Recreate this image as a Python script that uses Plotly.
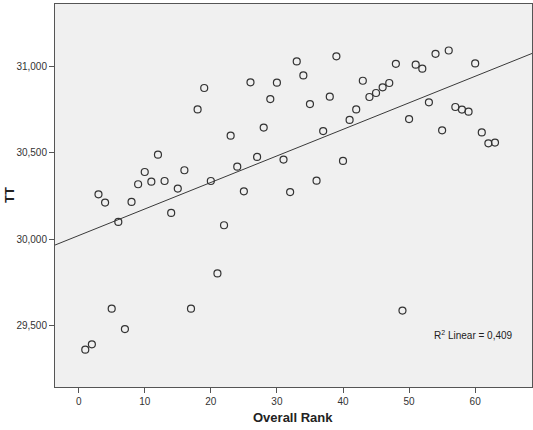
import numpy as np
import plotly.graph_objects as go

rank = list(range(1, 64))
tt = [29361, 29392, 30260, 30212, 29598, 30100, 29480, 30216, 30318, 30389,
      30333, 30489, 30337, 30152, 30293, 30399, 29598, 30751, 30875, 30337,
      29802, 30081, 30599, 30420, 30277, 30908, 30476, 30646, 30811, 30906,
      30461, 30273, 31029, 30948, 30782, 30339, 30626, 30825, 31058, 30453,
      30690, 30751, 30917, 30823, 30846, 30879, 30904, 31015, 29587, 30695,
      31010, 30987, 30792, 31073, 30630, 31092, 30765, 30750, 30738, 31017,
      30618, 30555, 30559]

x_range = [-3.58, 68.6]
y_range = [29145, 31361]

slope, intercept = np.polyfit(rank, tt, 1)
fx = np.array(x_range)
fy = slope * fx + intercept

W, H = 533, 430
ML, MR, MT, MB = 55, 1, 4, 43
pw, ph = W - ML - MR, H - MT - MB

fig = go.Figure()
fig.add_trace(go.Scatter(x=fx, y=fy, mode="lines",
                         line=dict(color="#3a3a3a", width=1), hoverinfo="skip"))
fig.add_trace(go.Scatter(x=rank, y=tt, mode="markers",
                         marker=dict(symbol="circle-open", size=7,
                                     color="#333333", line=dict(width=1.2, color="#333333"))))

fig.update_layout(
    width=W, height=H,
    margin=dict(l=ML, r=MR, t=MT, b=MB, autoexpand=False),
    paper_bgcolor="white", plot_bgcolor="#F0F0F0",
    showlegend=False,
    font=dict(family="Liberation Sans, Arial", size=10, color="#333"),
    annotations=[
        dict(x=53.4, y=29448, xref="x", yref="y", xanchor="left", yanchor="middle",
             text="R<sup>2</sup> Linear = 0,409", showarrow=False,
             font=dict(size=10, color="#222")),
        dict(xref="paper", yref="paper", x=(293 - ML) / pw, y=(H - MB - 417) / ph,
             xanchor="center", yanchor="middle", text="<b>Overall Rank</b>",
             showarrow=False, font=dict(size=13, color="#222")),
        dict(xref="paper", yref="paper", x=(9 - ML) / pw, y=(H - MB - 195) / ph,
             xanchor="center", yanchor="middle", text="<b>TT</b>", showarrow=False,
             textangle=-90, font=dict(size=13, color="#222")),
    ],
)

fig.update_xaxes(range=x_range, tickvals=[0, 10, 20, 30, 40, 50, 60],
                 showgrid=False, zeroline=False, showline=True, linecolor="#555",
                 linewidth=1, mirror=True, ticks="outside", ticklen=5, tickcolor="#555",
                 automargin=False)
fig.update_yaxes(range=y_range, tickvals=[29500, 30000, 30500, 31000], tickformat=",d",
                 showgrid=False, zeroline=False, showline=True, linecolor="#555",
                 linewidth=1, mirror=True, ticks="outside", ticklen=5, tickcolor="#555",
                 automargin=False)

fig.write_html("out.html", config={"displayModeBar": False},
               post_script="document.body.style.margin='0';document.body.style.overflow='hidden';")
